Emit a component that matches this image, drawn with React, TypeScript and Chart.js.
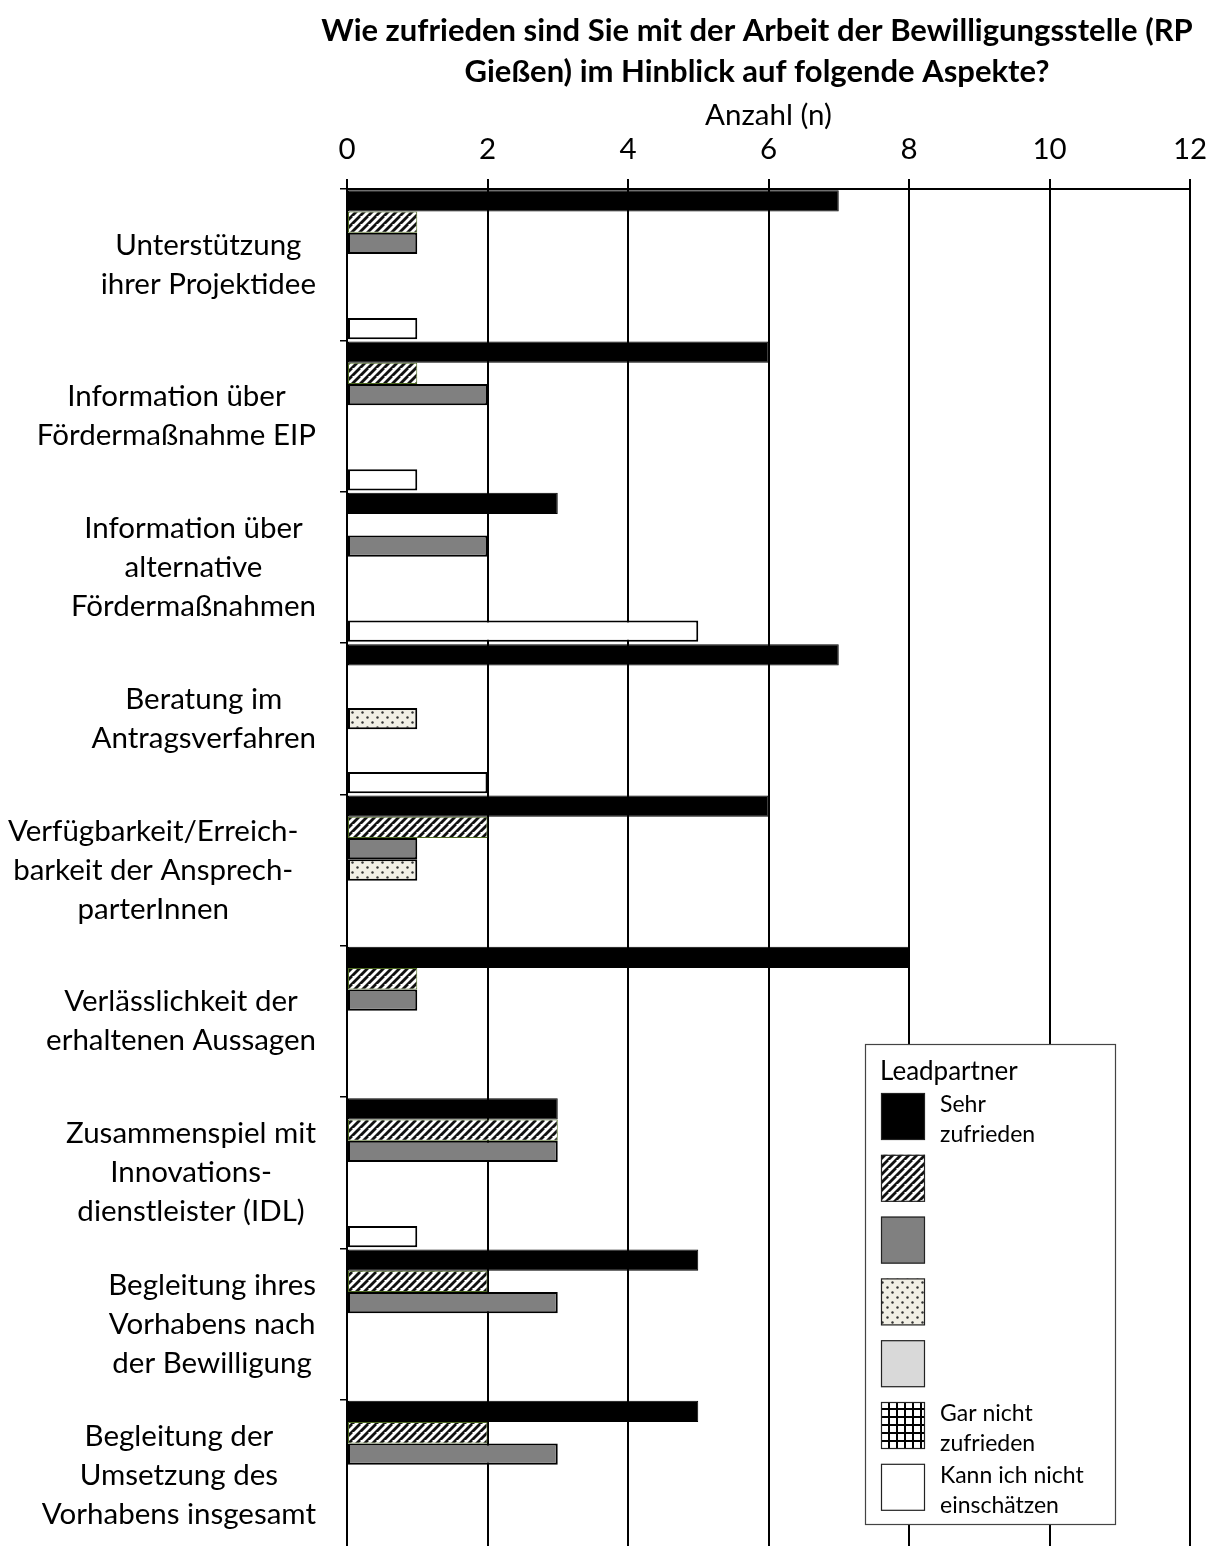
import React, { useEffect, useRef } from 'react';
import { Chart, registerables } from 'chart.js';

Chart.register(...registerables);

// Survey aspects (each entry is one label, split into its display lines)
const categories: string[][] = [
  ['Unterstützung', 'ihrer Projektidee'],
  ['Information über', 'Fördermaßnahme EIP'],
  ['Information über', 'alternative', 'Fördermaßnahmen'],
  ['Beratung im', 'Antragsverfahren'],
  ['Verfügbarkeit/Erreich-', 'barkeit der Ansprech-', 'parterInnen'],
  ['Verlässlichkeit der', 'erhaltenen Aussagen'],
  ['Zusammenspiel mit', 'Innovations-', 'dienstleister (IDL)'],
  ['Begleitung ihres', 'Vorhabens nach', 'der Bewilligung'],
  ['Begleitung der', 'Umsetzung des', 'Vorhabens insgesamt'],
];

// Answer scale, from "Sehr zufrieden" down to "Gar nicht zufrieden", plus "can't judge"
const seriesNames = ['Sehr zufrieden', '', '', '', '', 'Gar nicht zufrieden', 'Kann ich nicht einschätzen'];
const legendLines: string[][] = [['Sehr', 'zufrieden'], [], [], [], [], ['Gar nicht', 'zufrieden'], ['Kann ich nicht', 'einschätzen']];

const sehrZufrieden = [7, 6, 3, 7, 6, 8, 3, 5, 5];
const stufe2 = [1, 1, 0, 0, 2, 1, 3, 2, 2];
const stufe3 = [1, 2, 2, 0, 1, 1, 3, 3, 3];
const stufe4 = [0, 0, 0, 1, 1, 0, 0, 0, 0];
const stufe5 = [0, 0, 0, 0, 0, 0, 0, 0, 0];
const garNichtZufrieden = [0, 0, 0, 0, 0, 0, 0, 0, 0];
const kannNichtEinschaetzen = [1, 1, 5, 2, 0, 0, 1, 0, 0];

const xTickValues = [0, 2, 4, 6, 8, 10, 12];

const chartTitle = ['Wie zufrieden sind Sie mit der Arbeit der Bewilligungsstelle (RP', 'Gießen) im Hinblick auf folgende Aspekte?'];
const axisTitle = 'Anzahl (n)';
const legendTitle = 'Leadpartner';

const FONT = 'Lato, "Open Sans", sans-serif';

function makePattern(size: number, draw: (ctx: CanvasRenderingContext2D, s: number) => void): CanvasPattern {
  const c = document.createElement('canvas');
  c.width = size;
  c.height = size;
  const ctx = c.getContext('2d')!;
  draw(ctx, size);
  return ctx.createPattern(c, 'repeat')!;
}

function hatchPattern() {
  return makePattern(8, (ctx, s) => {
    ctx.fillStyle = '#fff';
    ctx.fillRect(0, 0, s, s);
    ctx.strokeStyle = '#111';
    ctx.lineWidth = 2.8;
    for (const k of [-1, 0, 1, 2]) {
      ctx.beginPath();
      ctx.moveTo(k * s - s, 2 * s);
      ctx.lineTo(k * s + s, 0);
      ctx.stroke();
    }
  });
}

function dotPattern() {
  return makePattern(10, (ctx, s) => {
    ctx.fillStyle = '#f1efe5';
    ctx.fillRect(0, 0, s, s);
    ctx.fillStyle = '#333';
    for (const [x, y] of [[2.5, 2.5], [7.5, 7.5]]) {
      ctx.beginPath();
      ctx.arc(x, y, 1.2, 0, Math.PI * 2);
      ctx.fill();
    }
  });
}

function gridPattern() {
  return makePattern(8, (ctx, s) => {
    ctx.fillStyle = '#fff';
    ctx.fillRect(0, 0, s, s);
    ctx.fillStyle = '#000';
    ctx.fillRect(0, 0, s, 2);
    ctx.fillRect(0, 0, 2, s);
  });
}

const overlayPlugin = {
  id: 'overlayText',
  afterDraw(chart: any) {
    const ctx: CanvasRenderingContext2D = chart.ctx;
    const x = chart.scales.x;
    const y = chart.scales.y;
    ctx.save();
    ctx.fillStyle = '#000';
    ctx.textBaseline = 'middle';

    // Title
    ctx.textAlign = 'center';
    ctx.font = `bold 31px ${FONT}`;
    chartTitle.forEach((line, i) => ctx.fillText(line, 757, 31 + i * 41));

    // Axis title
    ctx.font = `29.5px ${FONT}`;
    ctx.fillText(axisTitle, (x.left + x.right) / 2, 115);

    // Category labels: block right-aligned, lines centred within the block;
    // very wide blocks start at the left margin instead
    ctx.font = `29.5px ${FONT}`;
    (chart.data.labels as string[][]).forEach((lines, i) => {
      const cy = y.getPixelForValue(i);
      const maxW = Math.max(...lines.map((l) => ctx.measureText(l).width));
      const left = 316 - maxW < 30 ? 8 : 316 - maxW;
      const cx = left + maxW / 2;
      lines.forEach((l, j) => ctx.fillText(l, cx, cy + (j - (lines.length - 1) / 2) * 39));
    });

    // Legend box
    const bx = 865.5, by = 1044.5, bw = 250, bh = 480;
    ctx.fillStyle = '#fff';
    ctx.fillRect(bx, by, bw, bh);
    ctx.strokeStyle = '#444';
    ctx.lineWidth = 1.2;
    ctx.strokeRect(bx, by, bw, bh);
    ctx.fillStyle = '#000';
    ctx.textAlign = 'left';
    ctx.font = `26px ${FONT}`;
    ctx.fillText(legendTitle, 880, 1072);
    chart.data.datasets.forEach((ds: any, i: number) => {
      const sy = 1093 + i * 61.8;
      ctx.fillStyle = ds.backgroundColor;
      ctx.fillRect(881, sy, 44, 47);
      ctx.strokeStyle = '#222';
      ctx.lineWidth = 1.2;
      ctx.strokeRect(881.5, sy + 0.5, 43, 46);
      ctx.fillStyle = '#000';
      ctx.font = `23px ${FONT}`;
      legendLines[i].forEach((l, j) => ctx.fillText(l, 940, sy + 12 + j * 30));
    });
    ctx.restore();
  },
};

export default function App() {
  const canvasRef = useRef<HTMLCanvasElement | null>(null);

  useEffect(() => {
    const canvas = canvasRef.current;
    if (!canvas) return;
    const fills = ['#000', hatchPattern(), '#808080', dotPattern(), '#d9d9d9', gridPattern(), '#fff'];
    const borders = ['#000', '#4e6b20', '#000', '#000', '#000', '#000', '#000'];
    const widths = [1, 1, 2, 2, 2, 2, 2];
    const values = [sehrZufrieden, stufe2, stufe3, stufe4, stufe5, garNichtZufrieden, kannNichtEinschaetzen];

    const chart = new Chart(canvas, {
      type: 'bar',
      data: {
        labels: categories as any,
        datasets: values.map((v, i) => ({
          label: seriesNames[i],
          data: v,
          backgroundColor: fills[i] as any,
          borderColor: borders[i],
          borderWidth: widths[i],
          borderSkipped: false,
          categoryPercentage: 0.985,
          barPercentage: 1,
        })),
      },
      options: {
        indexAxis: 'y',
        responsive: false,
        animation: false,
        layout: { padding: { left: 0, right: 33, top: 0, bottom: 6 } },
        plugins: {
          legend: { display: false },
          title: { display: false },
          tooltip: { enabled: false },
        },
        scales: {
          x: {
            position: 'top',
            min: 0,
            max: 12,
            afterBuildTicks: (s: any) => {
              s.ticks = xTickValues.map((v) => ({ value: v }));
            },
            afterFit: (s: any) => {
              s.height = 189;
            },
            ticks: { font: { family: FONT, size: 29.5 }, color: '#000', padding: 12 },
            grid: { color: '#000', lineWidth: 2, tickLength: 10 },
            border: { color: '#000', width: 2 },
          },
          y: {
            afterFit: (s: any) => {
              s.width = 347;
            },
            ticks: { display: false },
            grid: { drawOnChartArea: false, color: '#000', lineWidth: 1.5, tickLength: 7, offset: true },
            border: { color: '#000', width: 2 },
          },
        },
      },
      plugins: [overlayPlugin],
    });

    if ((document as any).fonts) {
      Promise.all([
        (document as any).fonts.load(`29px Lato`),
        (document as any).fonts.load(`bold 31px Lato`),
      ]).then(() => chart.update()).catch(() => {});
    }

    return () => chart.destroy();
  }, []);

  return (
    <div style={{ position: 'fixed', left: 0, top: 0, width: 1223, height: 1546, overflow: 'hidden', background: '#fff' }}>
      <canvas ref={canvasRef} width={1223} height={1557} style={{ display: 'block' }} />
    </div>
  );
}
